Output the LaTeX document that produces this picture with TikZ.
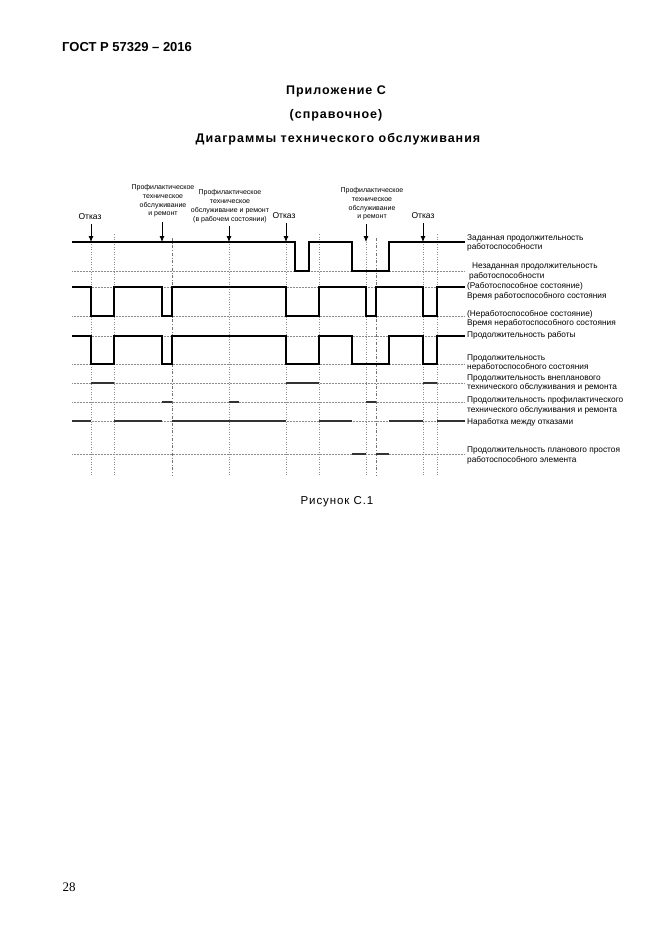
\documentclass[tikz,border=0pt]{standalone}
\usepackage{fontspec}
\setmainfont{Liberation Sans}
\newfontfamily\serifnum{Liberation Serif}
\newfontfamily\spacedsans[LetterSpace=8]{Liberation Sans}
\usetikzlibrary{arrows.meta}
\begin{document}
\begin{tikzpicture}[x=1pt,y=-1pt,
  trace/.style={line width=1.6pt, line join=miter},
  base/.style={black!45, densely dotted, line width=0.5pt},
  guide/.style={black!45, dotted, line width=0.5pt},
  guidedark/.style={black!55, dash dot, line width=0.5pt},
  seg/.style={line width=2pt, black!80},
  lbl/.style={font=\fontsize{8.3}{9.5}\selectfont, anchor=west, align=left, inner sep=0pt},
  smalllbl/.style={font=\fontsize{7}{8.6}\selectfont, align=center, inner sep=0pt},
  otk/.style={font=\fontsize{8.5}{10}\selectfont, inner sep=0pt},
  arr/.style={-{Latex[length=6pt,width=5pt]}, line width=0.8pt},
  ttlfont/.style={inner sep=0pt, font=\spacedsans\bfseries\fontsize{12.5}{15}\selectfont}
]
\useasboundingbox[fill=white] (0,0) rectangle (662,935);

% header and titles
\node[anchor=west, inner sep=0pt, font=\bfseries\fontsize{13}{15}\selectfont] (hdr) at (62,47) {ГОСТ Р 57329 – 2016};
\node[ttlfont] (app) at (336,91) {Приложение С};
\node[ttlfont] (ref) at (336,115) {(справочное)};
\node[ttlfont] (ttl) at (338,139) {Диаграммы технического обслуживания};
\node[inner sep=0pt, font=\spacedsans\fontsize{11.5}{14}\selectfont] (fig) at (337,502) {Рисунок С.1};
\node[inner sep=0pt, font=\serifnum\fontsize{13}{15}\selectfont] (pg) at (69,887) {28};

% vertical guides
\foreach \gx in {91,114,229,286,319,366,423,437}
  \draw[guide] (\gx,234) -- (\gx,476);
\foreach \gx in {172,376}
  \draw[guidedark] (\gx,238) -- (\gx,476);

% baselines
\foreach \by in {271,316,364,383,402,421,454}
  \draw[base] (72,\by) -- (465,\by);
\foreach \by in {287,336}
  \draw[base] (72,\by) -- (465,\by);

% row 1: set / unset operability duration
\draw[trace] (72,242) -- (295,242) -- (295,271) -- (309,271) -- (309,242) -- (352,242)
  -- (352,271) -- (389,271) -- (389,242) -- (465,242);
% row 2: operable / inoperable state
\draw[trace] (72,287) -- (91,287) -- (91,316) -- (114,316) -- (114,287) -- (162,287)
  -- (162,316) -- (172,316) -- (172,287) -- (286,287) -- (286,316) -- (319,316)
  -- (319,287) -- (366,287) -- (366,316) -- (376,316) -- (376,287) -- (423,287)
  -- (423,316) -- (437,316) -- (437,287) -- (465,287);
% row 3: operating time
\draw[trace] (72,336) -- (91,336) -- (91,364) -- (114,364) -- (114,336) -- (162,336)
  -- (162,364) -- (172,364) -- (172,336) -- (286,336) -- (286,364) -- (319,364)
  -- (319,336) -- (352,336) -- (352,364) -- (389,364) -- (389,336) -- (423,336)
  -- (423,364) -- (437,364) -- (437,336) -- (465,336);
% row 4: unscheduled maintenance
\foreach \a/\b in {91/114,286/319,423/437}
  \draw[seg] (\a,383) -- (\b,383);
% row 5: preventive maintenance
\foreach \a/\b in {162/172,229/239,366/376}
  \draw[seg] (\a,402) -- (\b,402);
% row 6: time between failures
\foreach \a/\b in {72/91,114/162,172/286,319/352,389/423,437/465}
  \draw[seg] (\a,421) -- (\b,421);
% row 7: scheduled idle of operable item
\foreach \a/\b in {352/366,376/389}
  \draw[seg] (\a,454) -- (\b,454);

% event labels
\node[otk] (o1) at (90,217) {Отказ};
\node[otk] (o2) at (284,216) {Отказ};
\node[otk] (o3) at (423,216) {Отказ};
\node[smalllbl] (p1) at (163,201) {Профилактическое\\техническое\\обслуживание\\и ремонт};
\node[smalllbl, font=\fontsize{7}{9.2}\selectfont] (p2) at (230,206) {Профилактическое\\техническое\\обслуживание и ремонт\\(в рабочем состоянии)};
\node[smalllbl] (p3) at (372,204) {Профилактическое\\техническое\\обслуживание\\и ремонт};

\coordinate (e1) at (91,242);
\coordinate (e2) at (162,242);
\coordinate (e3) at (229,242);
\coordinate (e4) at (286,242);
\coordinate (e5) at (366,242);
\coordinate (e6) at (423,242);
\draw[arr] (e1 |- o1.south) ++(0,4) -- (e1);
\draw[arr] (e2 |- p1.south) ++(0,5) -- (e2);
\draw[arr] (e3 |- p2.south) ++(0,3) -- (e3);
\draw[arr] (e4 |- o2.south) ++(0,4) -- (e4);
\draw[arr] (e5 |- p3.south) ++(0,4) -- (e5);
\draw[arr] (e6 |- o3.south) ++(0,4) -- (e6);

% legend
\node[lbl] (l1) at (467,243) {Заданная продолжительность\\работоспособности};
\node[lbl] (l2) at (469,271.5) {\hspace{3pt}Незаданная продолжительность\\работоспособности};
\node[lbl] (l3) at (467,291.5) {(Работоспособное состояние)\\Время работоспособного состояния};
\node[lbl] (l4) at (467,319) {(Неработоспособное состояние)\\Время неработоспособного состояния};
\node[lbl] (l5) at (467,335) {Продолжительность работы};
\node[lbl] (l6) at (467,363) {Продолжительность\\неработоспособного состояния};
\node[lbl] (l7) at (467,383) {Продолжительность внепланового\\технического обслуживания и ремонта};
\node[lbl] (l8) at (467,405.5) {Продолжительность профилактического\\технического обслуживания и ремонта};
\node[lbl] (l9) at (467,422) {Наработка между отказами};
\node[lbl] (l10) at (467,455.5) {Продолжительность планового простоя\\работоспособного элемента};
\end{tikzpicture}
\end{document}
